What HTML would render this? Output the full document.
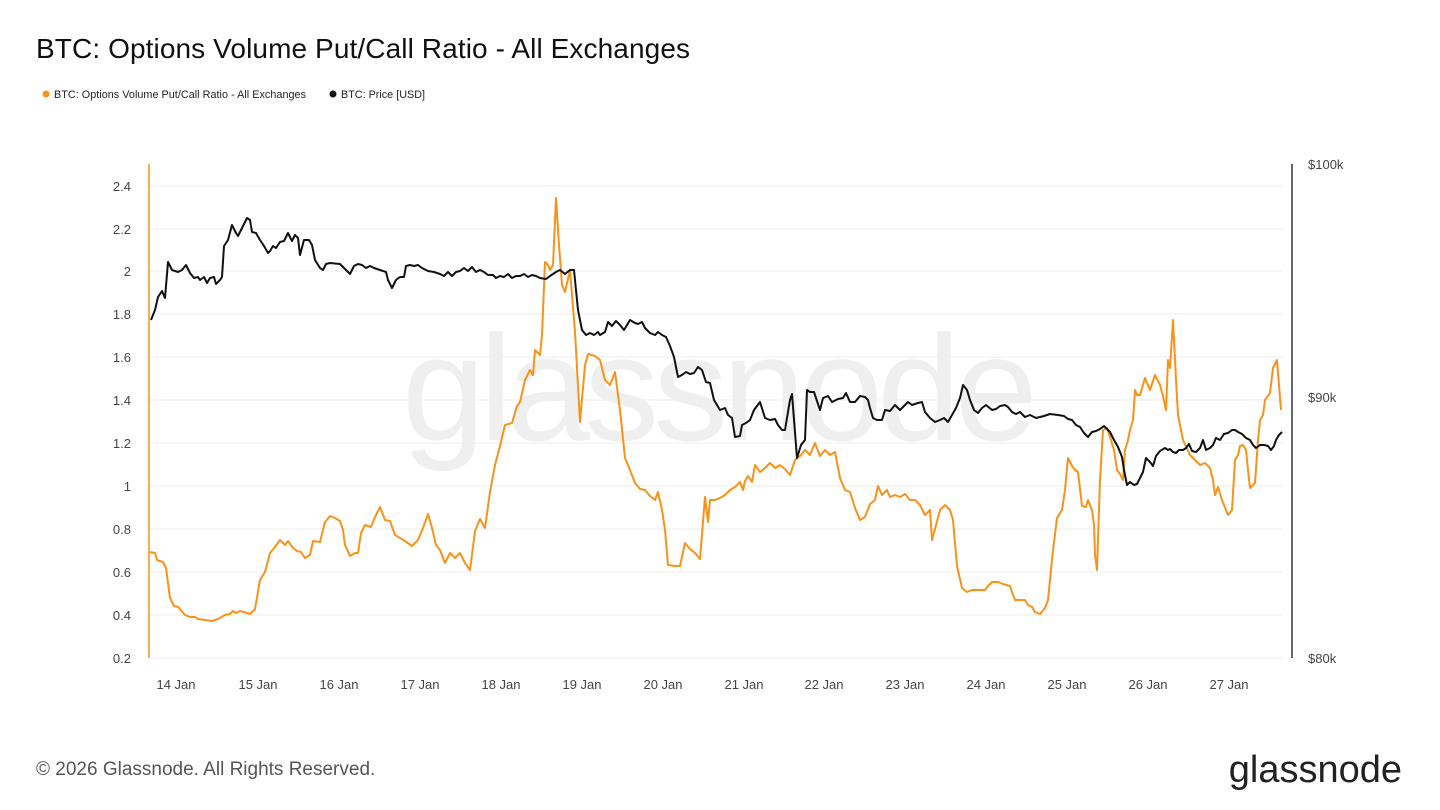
<!DOCTYPE html>
<html><head><meta charset="utf-8"><style>
html,body{margin:0;padding:0;background:#fff;width:1440px;height:810px;overflow:hidden;font-family:"Liberation Sans",sans-serif}
</style></head><body>
<svg width="1440" height="810" viewBox="0 0 1440 810" xmlns="http://www.w3.org/2000/svg" font-family="Liberation Sans, sans-serif">
<text x="36" y="58" font-size="28" fill="#111" textLength="654">BTC: Options Volume Put/Call Ratio - All Exchanges</text>
<circle cx="46" cy="94" r="3.5" fill="#f7931a"/>
<text x="54" y="98" font-size="10.8" fill="#222" textLength="252">BTC: Options Volume Put/Call Ratio - All Exchanges</text>
<circle cx="333" cy="94" r="3.5" fill="#111"/>
<text x="341" y="98" font-size="10.8" fill="#222">BTC: Price [USD]</text>
<g stroke="#ececec" stroke-width="1">
<line x1="150" x2="1283" y1="186" y2="186"/><line x1="150" x2="1283" y1="229" y2="229"/><line x1="150" x2="1283" y1="271" y2="271"/><line x1="150" x2="1283" y1="314" y2="314"/><line x1="150" x2="1283" y1="357" y2="357"/><line x1="150" x2="1283" y1="400" y2="400"/><line x1="150" x2="1283" y1="443" y2="443"/><line x1="150" x2="1283" y1="486" y2="486"/><line x1="150" x2="1283" y1="529" y2="529"/><line x1="150" x2="1283" y1="572" y2="572"/><line x1="150" x2="1283" y1="615" y2="615"/><line x1="150" x2="1283" y1="658" y2="658"/>
</g>
<text x="402" y="440" font-size="150" fill="#efefef" textLength="636">glassnode</text>
<g font-size="13" fill="#444" text-anchor="end">
<text x="131" y="191">2.4</text><text x="131" y="234">2.2</text><text x="131" y="276">2</text><text x="131" y="319">1.8</text><text x="131" y="362">1.6</text><text x="131" y="405">1.4</text><text x="131" y="448">1.2</text><text x="131" y="491">1</text><text x="131" y="534">0.8</text><text x="131" y="577">0.6</text><text x="131" y="620">0.4</text><text x="131" y="663">0.2</text>
</g>
<g font-size="13" fill="#444">
<text x="1308" y="169">$100k</text><text x="1308" y="402">$90k</text><text x="1308" y="663">$80k</text>
</g>
<g font-size="13" fill="#444" text-anchor="middle">
<text x="176" y="689">14 Jan</text><text x="258" y="689">15 Jan</text><text x="339" y="689">16 Jan</text><text x="420" y="689">17 Jan</text><text x="501" y="689">18 Jan</text><text x="582" y="689">19 Jan</text><text x="663" y="689">20 Jan</text><text x="744" y="689">21 Jan</text><text x="824" y="689">22 Jan</text><text x="905" y="689">23 Jan</text><text x="986" y="689">24 Jan</text><text x="1067" y="689">25 Jan</text><text x="1148" y="689">26 Jan</text><text x="1229" y="689">27 Jan</text>
</g>
<line x1="149" y1="164" x2="149" y2="658" stroke="#f7931a" stroke-width="1.5"/>
<line x1="1292" y1="164" x2="1292" y2="658" stroke="#333" stroke-width="1.5"/>
<polyline fill="none" stroke="#f7931a" stroke-width="2" stroke-linejoin="round" points="150,552 155,553 157,560 163,562 166,568 170,598 174,606 178,607 185,615 190,617 195,617 198,619 205,620 212,621 218,619 225,615 230,614 233,611 236,613 240,611 247,613 250,614 255,609 260,580 265,572 270,553 275,547 280,540 285,545 288,541 293,548 297,551 301,552 305,558 310,555 313,541 320,542 325,522 330,516 335,518 340,521 343,530 345,545 350,556 355,553 358,553 361,533 365,525 371,527 375,517 380,507 385,520 390,521 395,535 400,538 405,541 412,546 418,540 423,528 428,514 432,528 436,545 440,550 445,563 450,553 455,558 460,553 465,563 470,570 475,531 480,519 485,528 490,492 495,465 500,446 505,425 512,423 517,406 520,402 525,380 530,370 533,375 535,350 540,355 542,335 545,262 548,265 550,270 553,265 556,198 559,245 562,285 565,292 570,270 575,332 580,422 585,365 588,354 595,356 600,360 605,380 610,385 615,372 620,410 625,458 630,470 635,483 640,489 645,490 650,496 655,500 658,492 662,510 665,530 668,565 675,566 680,566 685,543 690,549 695,553 700,559 705,497 708,522 710,500 715,500 720,498 725,495 730,490 735,487 740,482 743,490 745,481 748,476 752,482 755,465 760,472 765,468 770,463 775,468 780,465 785,469 790,475 795,460 800,456 805,450 810,455 815,443 820,456 825,450 830,455 835,452 840,478 845,490 850,492 855,508 860,520 865,517 870,504 875,500 878,486 882,495 887,490 890,497 895,495 900,497 905,494 910,500 915,500 920,505 925,515 930,510 932,540 935,529 940,510 945,505 950,510 953,520 957,566 962,588 967,592 972,590 978,590 985,590 988,586 992,582 998,582 1003,584 1010,586 1012,592 1015,600 1020,600 1025,600 1028,605 1032,607 1035,612 1040,614 1045,608 1048,600 1050,580 1053,550 1057,518 1060,513 1062,510 1065,490 1068,458 1072,466 1075,470 1078,472 1082,506 1086,507 1088,500 1092,510 1094,525 1095,555 1097,570 1100,480 1103,430 1107,428 1111,440 1114,450 1117,470 1120,474 1123,480 1125,450 1128,440 1130,430 1133,420 1135,390 1137,395 1140,395 1145,378 1150,390 1155,375 1160,385 1163,396 1166,410 1168,360 1170,368 1173,320 1176,380 1178,415 1183,440 1190,455 1195,460 1200,465 1205,463 1210,468 1213,480 1215,495 1218,487 1222,500 1228,515 1232,510 1235,460 1238,455 1240,446 1243,445 1246,450 1248,470 1250,488 1253,485 1255,483 1258,440 1260,420 1263,415 1265,400 1270,393 1273,368 1277,360 1279,385 1281,410"/>
<polyline fill="none" stroke="#111" stroke-width="2" stroke-linejoin="round" points="151,320 155,310 158,297 162,291 165,298 168,262 172,270 178,272 182,270 186,265 190,273 194,278 198,277 200,280 204,277 207,283 210,278 214,277 216,284 220,280 222,277 224,246 228,240 232,225 236,233 238,236 242,228 245,222 247,218 250,220 252,232 256,233 260,240 264,246 268,253 270,251 273,246 276,248 280,242 284,241 288,233 292,241 295,235 298,238 300,255 304,240 309,240 312,245 315,260 320,268 323,270 326,264 330,263 340,264 344,268 348,272 350,274 354,266 358,264 362,265 366,268 370,266 374,268 380,270 386,272 388,280 392,288 396,280 400,277 404,277 406,266 410,265 414,266 418,265 422,268 428,271 434,272 440,274 444,276 448,272 452,276 456,272 460,271 464,268 468,271 472,267 476,272 480,270 484,272 488,275 493,275 496,278 500,276 504,277 508,274 512,278 516,276 520,276 524,274 528,277 532,275 536,276 540,278 546,279 550,276 556,272 560,270 565,274 570,270 574,270 578,310 582,330 586,335 590,333 594,335 598,332 600,335 605,332 608,322 612,326 616,321 620,325 624,330 630,320 635,323 638,324 642,322 645,328 650,333 655,335 658,332 662,335 666,337 670,346 674,357 678,377 682,375 686,372 690,374 694,373 698,367 702,370 706,382 710,383 714,400 720,410 725,408 728,415 732,418 735,437 740,436 742,425 746,423 750,420 754,410 760,402 765,418 770,420 775,419 778,425 782,430 785,430 790,400 792,394 797,458 801,445 805,440 807,390 810,392 814,392 820,410 823,398 828,396 832,402 838,399 843,398 846,393 850,402 855,402 860,396 865,397 868,400 870,408 873,418 877,420 882,420 885,410 890,411 895,405 900,410 905,405 908,402 912,405 918,403 922,402 925,412 930,418 935,422 940,420 944,418 948,422 952,415 956,408 960,398 963,385 967,390 970,400 974,410 978,413 982,408 986,405 992,410 996,409 1000,406 1005,405 1008,407 1012,412 1016,414 1020,412 1025,417 1030,415 1036,418 1044,416 1050,414 1058,415 1064,416 1068,419 1072,420 1076,425 1080,427 1084,433 1088,437 1092,432 1096,431 1100,429 1104,426 1108,430 1110,432 1114,440 1118,447 1122,457 1124,470 1127,485 1130,482 1134,485 1137,484 1140,478 1143,472 1146,458 1150,462 1153,466 1156,456 1160,451 1165,448 1168,450 1170,449 1173,452 1176,453 1179,450 1183,450 1186,448 1189,444 1192,451 1196,452 1200,448 1203,440 1206,450 1210,448 1213,445 1216,438 1220,440 1224,434 1228,433 1232,430 1235,430 1238,432 1242,434 1246,438 1250,440 1253,445 1256,448 1260,445 1264,445 1268,446 1271,450 1274,446 1276,440 1279,435 1282,432"/>
<text x="36" y="775" font-size="19" fill="#555">© 2026 Glassnode. All Rights Reserved.</text>
<text x="1402" y="782" font-size="38" fill="#222" text-anchor="end">glassnode</text>
</svg>
</body></html>
